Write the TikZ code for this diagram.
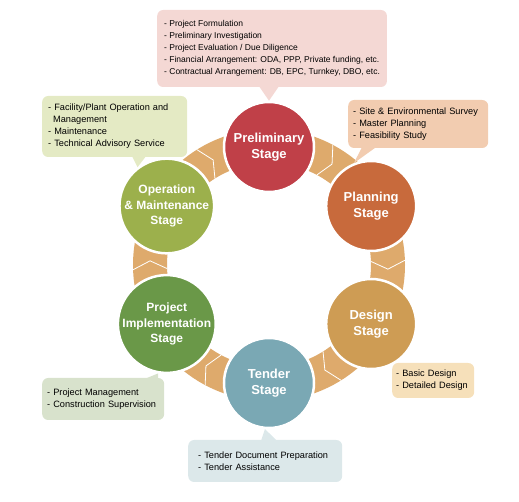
\documentclass[tikz,border=0pt]{standalone}
\usepackage{fontspec}
\setmainfont{Liberation Sans}
\usepackage{xcolor}
\usetikzlibrary{arrows.meta, positioning, calc}

\definecolor{bandcol}{RGB}{222,170,108}
\definecolor{prelimcol}{RGB}{192,64,72}
\definecolor{plancol}{RGB}{200,106,60}
\definecolor{designcol}{RGB}{206,156,84}
\definecolor{tendercol}{RGB}{122,168,180}
\definecolor{implcol}{RGB}{106,152,72}
\definecolor{opcol}{RGB}{156,176,76}
\definecolor{prelimnotecol}{RGB}{244,216,212}
\definecolor{plannotecol}{RGB}{242,204,176}
\definecolor{designnotecol}{RGB}{246,224,186}
\definecolor{tendernotecol}{RGB}{220,232,234}
\definecolor{implnotecol}{RGB}{216,226,204}
\definecolor{opnotecol}{RGB}{228,234,196}

\begin{document}
\begin{tikzpicture}[x=1pt, y=1pt,
  stage/.style={circle, draw=white, line width=2.5pt, inner sep=0pt, minimum size=90pt, text=white, align=center, font=\fontsize{13}{15.5}\selectfont\bfseries},
  smallstage/.style={stage, font=\fontsize{12}{15.5}\selectfont\bfseries},
  note/.style={rounded corners=6pt, anchor=west, inner xsep=5pt, inner ysep=0pt, align=left, font=\fontsize{9.2}{12}\selectfont},
  chev/.style={draw=white, line width=0.8pt}]
\useasboundingbox (-269,-237) rectangle (250,265);
% ring
\draw[bandcol, line width=34pt] (0,0) circle (119);
\foreach \g in {0,60,...,300}
  \draw[chev] (\g+2:102) -- (\g-2:119) -- (\g+2:136);
% stages
\node[stage, fill=prelimcol] (prelim) at (90:118) {Preliminary\\Stage};
\node[stage, fill=plancol] (plan) at (30:118) {Planning\\Stage};
\node[stage, fill=designcol] (design) at (-30:118) {Design\\Stage};
\node[stage, fill=tendercol] (tender) at (-90:118) {Tender\\Stage};
\node[smallstage, fill=implcol] (impl) at (-150:118) {Project\\Implementation\\Stage};
\node[smallstage, fill=opcol] (op) at (150:118) {Operation\\\& Maintenance\\Stage};
% notes
\node[note, fill=prelimnotecol, minimum height=77pt, inner xsep=7pt, font=\fontsize{8.5}{12}\selectfont] (prelimnote) at (-112,216.5) {- Project Formulation\\- Preliminary Investigation\\- Project Evaluation / Due Diligence\\- Financial Arrangement: ODA, PPP, Private funding, etc.\\- Contractual Arrangement: DB, EPC, Turnkey, DBO, etc.};
\node[note, fill=plannotecol, minimum height=48pt, text width=130pt] (plannote) at (79,141) {- Site \& Environmental Survey\\- Master Planning\\- Feasibility Study};
\node[note, fill=designnotecol, minimum height=35pt, inner xsep=4pt, text width=74pt] (designnote) at (123,-115.5) {- Basic Design\\- Detailed Design};
\node[note, fill=tendernotecol, minimum height=42pt, inner xsep=10pt, text width=134pt] (tendernote) at (-81,-196) {- Tender Document Preparation\\- Tender Assistance};
\node[note, fill=implnotecol, minimum height=42pt, text width=112pt] (implnote) at (-227,-134) {- Project Management\\- Construction Supervision};
\node[note, fill=opnotecol, minimum height=61pt, inner xsep=6pt, text width=133pt] (opnote) at (-227,138.5) {- Facility/Plant Operation and\\\hspace{5pt}Management\\- Maintenance\\- Technical Advisory Service};
% tails
\fill[prelimnotecol] ($(prelimnote.south -| prelim)+(-10,1)$) -- (prelim.north) -- ($(prelimnote.south -| prelim)+(10,1)$) -- cycle;
\fill[plannotecol] ($(plannote.south west)+(14,1)$) -- (plan.112) -- ($(plannote.south west)+(28,1)$) -- cycle;
\fill[designnotecol] ($(designnote.north west)+(8,-1)$) -- (design.-58) -- ($(designnote.north west)+(22,-1)$) -- cycle;
\fill[tendernotecol] ($(tendernote.north -| tender)+(-8,-1)$) -- (tender.-95) -- ($(tendernote.north -| tender)+(8,-1)$) -- cycle;
\fill[implnotecol] ($(implnote.north west)+(103,-1)$) -- (impl.-100) -- ($(implnote.north west)+(116,-1)$) -- cycle;
\fill[opnotecol] ($(opnote.south west)+(90,1)$) -- (op.127) -- ($(opnote.south west)+(104,1)$) -- cycle;
\end{tikzpicture}
\end{document}
